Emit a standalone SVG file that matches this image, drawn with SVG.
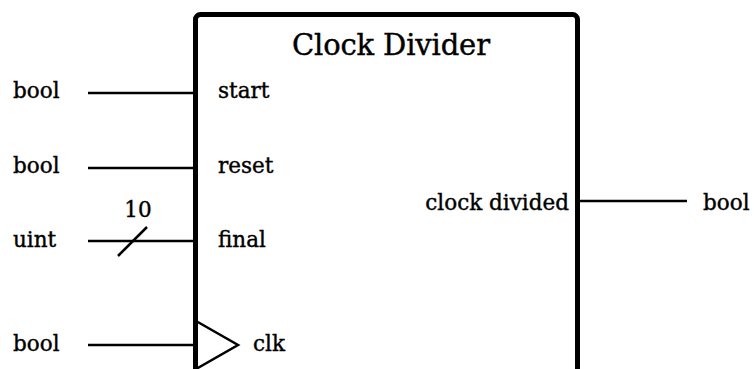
<svg xmlns="http://www.w3.org/2000/svg" width="754" height="369" viewBox="0 0 754 369">
  <style>
    text { font-family: "DejaVu Serif", "Liberation Serif", serif; fill: #000; stroke: #000; stroke-width: 0.4; }
    .lbl { font-size: 21.5px; }
    .title { font-size: 29px; }
    .wire { stroke: #000; stroke-width: 2.5; fill: none; }
    .box { stroke: #000; stroke-width: 5; fill: #fff; }
  </style>
  <rect width="754" height="369" fill="#fff"/>

  <g id="block">
    <rect class="box" x="195.5" y="14.5" width="382" height="380" rx="5"/>
    <text class="title" x="391" y="55" text-anchor="middle" textLength="198">Clock Divider</text>
  </g>

  <g id="connectors">
    <line class="wire" x1="88" y1="93" x2="195" y2="93"/>
    <line class="wire" x1="88" y1="168" x2="195" y2="168"/>
    <line class="wire" x1="88" y1="241" x2="195" y2="241"/>
    <line class="wire" x1="118" y1="256" x2="147" y2="227"/>
    <line class="wire" x1="88" y1="345" x2="195" y2="345"/>
    <line class="wire" x1="578" y1="201" x2="687" y2="201"/>
  </g>

  <g id="port-start">
    <text class="lbl" x="13" y="98">bool</text>
    <text class="lbl" x="218" y="98">start</text>
  </g>
  <g id="port-reset">
    <text class="lbl" x="13" y="173">bool</text>
    <text class="lbl" x="218" y="173">reset</text>
  </g>
  <g id="port-final">
    <text class="lbl" x="13" y="247">uint</text>
    <text class="lbl" x="138" y="217" text-anchor="middle">10</text>
    <text class="lbl" x="218" y="247">final</text>
  </g>
  <g id="port-clk">
    <text class="lbl" x="13" y="351">bool</text>
    <polyline class="wire" points="196,321 238,345 196,369" stroke-width="1.5"/>
    <text class="lbl" x="253" y="351">clk</text>
  </g>
  <g id="port-clock-divided">
    <text class="lbl" x="569" y="210" text-anchor="end">clock divided</text>
    <text class="lbl" x="703" y="210">bool</text>
  </g>
</svg>
